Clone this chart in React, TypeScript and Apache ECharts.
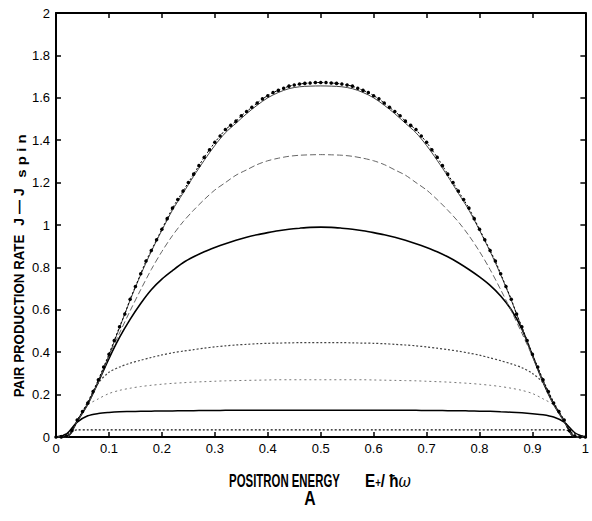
import React, { useEffect, useRef } from "react";
import * as echarts from "echarts";

// x positions of the finely sampled top curve (step 0.01)
const fineX: number[] = Array.from({ length: 101 }, (_, i) => i / 100);
// x positions of the other curves (step 0.02)
const coarseX: number[] = Array.from({ length: 51 }, (_, i) => i / 50);

const curveDots: number[] = [
  0, 0, 0.005, 0.03, 0.08, 0.12, 0.16, 0.215, 0.27, 0.33,
  0.39, 0.455, 0.52, 0.58, 0.65, 0.71, 0.77, 0.83, 0.88, 0.93,
  0.98, 1.03, 1.08, 1.12, 1.16, 1.2, 1.24, 1.28, 1.32, 1.355,
  1.39, 1.42, 1.45, 1.47, 1.49, 1.515, 1.535, 1.555, 1.575, 1.595,
  1.61, 1.625, 1.635, 1.645, 1.655, 1.66, 1.665, 1.668, 1.67, 1.672,
  1.672,
  1.672, 1.67, 1.668, 1.665, 1.66, 1.655, 1.645, 1.635, 1.625, 1.61,
  1.595, 1.575, 1.555, 1.535, 1.515, 1.49, 1.47, 1.45, 1.42, 1.39,
  1.355, 1.32, 1.28, 1.24, 1.2, 1.16, 1.12, 1.08, 1.03, 0.98,
  0.93, 0.88, 0.83, 0.77, 0.71, 0.65, 0.58, 0.52, 0.455, 0.39,
  0.33, 0.27, 0.215, 0.16, 0.12, 0.08, 0.03, 0.005, 0, 0,
];

const curveA: number[] = [
  0, 0, 0.075, 0.155, 0.265, 0.385, 0.515, 0.645, 0.765, 0.875,
  0.975, 1.07, 1.15, 1.23, 1.305, 1.375, 1.435, 1.48, 1.525, 1.565,
  1.6, 1.625, 1.643, 1.652, 1.655, 1.656,
  1.655, 1.652, 1.643, 1.625, 1.6,
  1.565, 1.525, 1.48, 1.435, 1.375, 1.305, 1.23, 1.15, 1.07, 0.975,
  0.875, 0.765, 0.645, 0.515, 0.385, 0.265, 0.155, 0.075, 0, 0,
];
const curveB: number[] = [
  0, 0, 0.075, 0.155, 0.26, 0.38, 0.49, 0.595, 0.695, 0.79,
  0.875, 0.95, 1.015, 1.07, 1.12, 1.165, 1.2, 1.235, 1.26, 1.285,
  1.303, 1.315, 1.324, 1.329, 1.331, 1.332,
  1.331, 1.329, 1.324, 1.315, 1.303,
  1.285, 1.26, 1.235, 1.2, 1.165, 1.12, 1.07, 1.015, 0.95, 0.875,
  0.79, 0.695, 0.595, 0.49, 0.38, 0.26, 0.155, 0.075, 0, 0,
];
const curveC: number[] = [
  0, 0, 0.075, 0.155, 0.26, 0.37, 0.47, 0.555, 0.63, 0.695,
  0.745, 0.785, 0.822, 0.85, 0.874, 0.894, 0.912, 0.928, 0.942, 0.954,
  0.964, 0.973, 0.98, 0.985, 0.989, 0.99,
  0.989, 0.985, 0.98, 0.973, 0.964,
  0.954, 0.942, 0.928, 0.912, 0.894, 0.874, 0.85, 0.822, 0.79, 0.755,
  0.715, 0.665, 0.6, 0.51, 0.385, 0.26, 0.155, 0.075, 0, 0,
];
const curveD: number[] = [
  0, 0, 0.075, 0.165, 0.255, 0.305, 0.33, 0.348, 0.362, 0.375,
  0.387, 0.397, 0.405, 0.412, 0.419, 0.425, 0.43, 0.434, 0.437, 0.44,
  0.442, 0.443, 0.444, 0.445, 0.445, 0.445,
  0.445, 0.445, 0.444, 0.443, 0.442,
  0.44, 0.437, 0.434, 0.43, 0.425, 0.419, 0.412, 0.405, 0.396, 0.386,
  0.373, 0.36, 0.345, 0.327, 0.3, 0.255, 0.165, 0.075, 0, 0,
];
const curveE: number[] = [
  0, 0, 0.075, 0.15, 0.18, 0.205, 0.22, 0.23, 0.238, 0.244,
  0.249, 0.253, 0.256, 0.259, 0.261, 0.263, 0.265, 0.266, 0.267, 0.268,
  0.269, 0.27, 0.27, 0.27, 0.27, 0.27,
  0.27, 0.27, 0.27, 0.27, 0.269,
  0.268, 0.267, 0.266, 0.265, 0.263, 0.261, 0.259, 0.256, 0.253, 0.249,
  0.244, 0.238, 0.23, 0.22, 0.205, 0.18, 0.15, 0.075, 0, 0,
];
const curveF: number[] = [
  0, 0.015, 0.07, 0.1, 0.111, 0.116, 0.119, 0.12, 0.121, 0.122,
  0.123, 0.123, 0.124, 0.124, 0.125, 0.125, 0.126, 0.126, 0.126, 0.126,
  0.126, 0.126, 0.126, 0.126, 0.126, 0.126,
  0.126, 0.126, 0.126, 0.126, 0.126,
  0.126, 0.126, 0.126, 0.126, 0.125, 0.125, 0.124, 0.124, 0.123, 0.122,
  0.121, 0.119, 0.117, 0.114, 0.11, 0.105, 0.094, 0.07, 0.02, 0,
];
const curveG: number[] = [
  0, 0.015, 0.034, 0.034, 0.034, 0.034, 0.034, 0.034, 0.034, 0.034,
  0.034, 0.034, 0.034, 0.034, 0.034, 0.034, 0.034, 0.034, 0.034, 0.034,
  0.034, 0.034, 0.034, 0.034, 0.034, 0.034,
  0.034, 0.034, 0.034, 0.034, 0.034,
  0.034, 0.034, 0.034, 0.034, 0.034, 0.034, 0.034, 0.034, 0.034, 0.034,
  0.034, 0.034, 0.034, 0.034, 0.034, 0.034, 0.034, 0.034, 0.015, 0,
];

const xTickLabels: string[] = ["0", "0.1", "0.2", "0.3", "0.4", "0.5", "0.6", "0.7", "0.8", "0.9", "1"];
const yTickLabels: string[] = ["0", "0.2", "0.4", "0.6", "0.8", "1", "1.2", "1.4", "1.6", "1.8", "2"];

const FONT = "'Liberation Sans', Arial, sans-serif";

const pairs = (xs: number[], ys: number[]) => ys.map((y, i) => [xs[i], y]);

export default function App() {
  const ref = useRef<HTMLDivElement>(null);
  useEffect(() => {
    if (!ref.current) return;
    const chart = echarts.init(ref.current, null, { renderer: "svg" });
    const line = (data: number[][], color: string, width: number, type: any, z = 2) => ({
      type: "line",
      data,
      showSymbol: false,
      symbol: "none",
      smooth: 0.3,
      lineStyle: { color, width, type },
      z,
    });
    const axisCommon = {
      min: 0,
      axisLine: { show: true, onZero: false, lineStyle: { color: "#000", width: 2 } },
      axisTick: { show: true, inside: true, length: 5, lineStyle: { color: "#000", width: 1.5 } },
      splitLine: { show: false },
    };
    const boldText = (text: string, x: number, y: number, size: number, sx: number, extra: any = {}) => ({
      type: "text",
      x,
      y,
      scaleX: sx,
      ...extra,
      style: {
        text,
        fontSize: size,
        fontFamily: FONT,
        fontWeight: "bold",
        fill: "#000",
        align: extra.align ?? "center",
        verticalAlign: "middle",
      },
    });
    chart.setOption({
      animation: false,
      backgroundColor: "#fff",
      grid: { left: 56, right: 3, top: 13, bottom: 84, containLabel: false },
      xAxis: [
        {
          ...axisCommon,
          type: "value",
          max: 1,
          interval: 0.1,
          axisLabel: {
            margin: 5,
            color: "#000",
            fontSize: 13,
            fontFamily: FONT,
            formatter: (v: number) => xTickLabels[Math.round(v * 10)] ?? "",
          },
        },
        {
          ...axisCommon,
          type: "value",
          position: "top",
          max: 1,
          interval: 0.1,
          axisLabel: { show: false },
        },
      ],
      yAxis: [
        {
          ...axisCommon,
          type: "value",
          max: 2,
          interval: 0.2,
          axisLabel: {
            margin: 6,
            color: "#000",
            fontSize: 13,
            fontFamily: FONT,
            formatter: (v: number) => yTickLabels[Math.round(v * 5)] ?? "",
          },
        },
        {
          ...axisCommon,
          type: "value",
          position: "right",
          max: 2,
          interval: 0.2,
          axisLabel: { show: false },
        },
      ],
      series: [
        line(pairs(coarseX, curveG), "#111", 1.2, [2, 2]),
        line(pairs(coarseX, curveF), "#000", 1.5, "solid"),
        line(pairs(coarseX, curveE), "#777", 1, [2, 3]),
        line(pairs(coarseX, curveD), "#444", 1.2, [2, 2]),
        line(pairs(coarseX, curveC), "#000", 1.6, "solid"),
        line(pairs(coarseX, curveB), "#666", 1, [6, 3]),
        line(pairs(coarseX, curveA), "#444", 1, "solid"),
        {
          type: "line",
          data: pairs(fineX, curveDots),
          showSymbol: true,
          symbol: "circle",
          symbolSize: 3.5,
          smooth: 0.2,
          itemStyle: { color: "#000" },
          lineStyle: { color: "#000", width: 1, type: [2, 2] },
          z: 5,
        },
      ],
      graphic: [
        boldText("PAIR PRODUCTION RATE", 19, 316, 14, 0.95, { rotation: Math.PI / 2 }),
        boldText("J — J", 19, 207, 14, 1.0, { rotation: Math.PI / 2 }),
        boldText("s p i n", 22, 156, 12, 1.25, { rotation: Math.PI / 2 }),
        boldText("POSITRON ENERGY", 284.5, 480, 19, 0.6),
        {
          type: "text",
          x: 365,
          y: 480,
          scaleX: 0.8,
          style: {
            text: "{a|E}{s|+}{a|/ ħ}{w|ω}",
            rich: {
              a: { fontSize: 19, fontFamily: FONT, fontWeight: "bold", fill: "#000" },
              s: { fontSize: 12, fontFamily: FONT, fontWeight: "bold", fill: "#000", padding: [6, 0, 0, 0] },
              w: { fontSize: 19, fontFamily: "'DejaVu Serif', serif", fontStyle: "italic", fill: "#000" },
            },
            align: "left",
            verticalAlign: "middle",
          },
        },
        boldText("A", 310, 498, 21, 0.75),
      ],
    });
    return () => chart.dispose();
  }, []);
  return (
    <div
      ref={ref}
      style={{ position: "fixed", left: 0, top: 0, width: 592, height: 521, background: "#fff" }}
    />
  );
}
